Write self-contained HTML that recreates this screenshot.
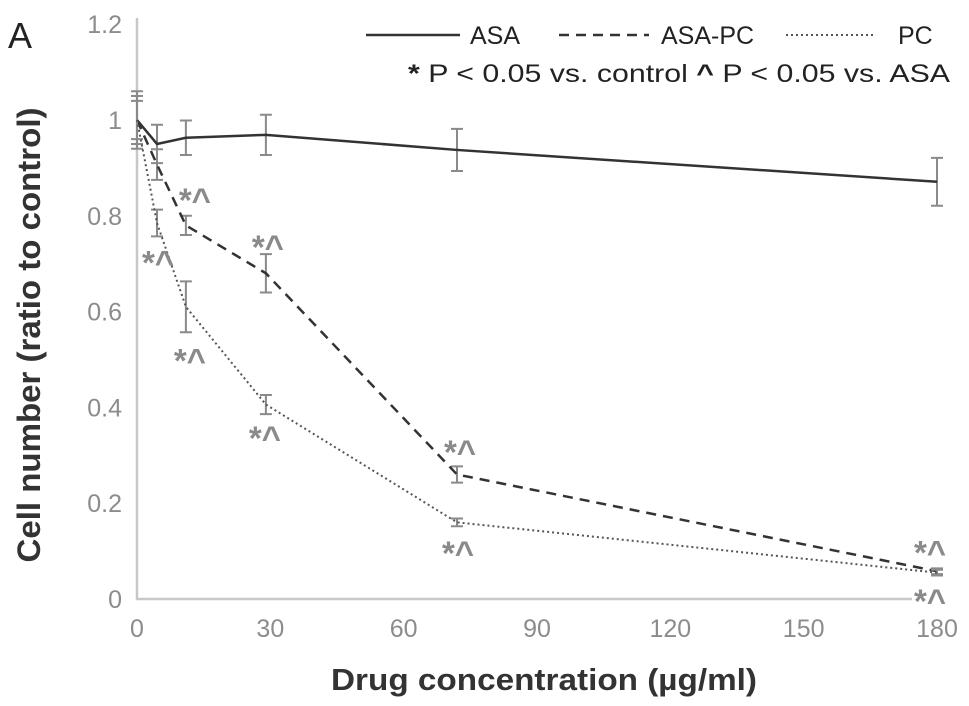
<!DOCTYPE html>
<html><head><meta charset="utf-8"><style>
html,body{margin:0;padding:0;background:#fff;}
svg{display:block;font-family:"Liberation Sans Narrow","Liberation Sans",sans-serif;}
</style></head><body>
<svg id="chart" width="969" height="706" viewBox="0 0 969 706">
<text x="8" y="48" font-size="36" fill="#222">A</text>
<g id="axes"></g>
<g id="series"></g>
<g id="annots"></g>
<text transform="translate(40,335) rotate(-90)" text-anchor="middle" font-size="32" fill="#333" font-weight="bold" textLength="455" lengthAdjust="spacingAndGlyphs">Cell number (ratio to control)</text>
<text x="544" y="690" text-anchor="middle" font-size="31" fill="#333" font-weight="bold" textLength="426" lengthAdjust="spacingAndGlyphs">Drug concentration (µg/ml)</text>
<g>
  <g>
    <line x1="366" y1="35" x2="460" y2="35" stroke="#333" stroke-width="2.5"/>
    <text x="470" y="44" font-size="25" fill="#222">ASA</text>
  </g>
  <g>
    <line x1="559" y1="35" x2="649" y2="35" stroke="#333" stroke-width="2.5" stroke-dasharray="10,7"/>
    <text x="661" y="44" font-size="25" fill="#222">ASA-PC</text>
  </g>
  <g>
    <line x1="786" y1="35" x2="874" y2="35" stroke="#555" stroke-width="2" stroke-dasharray="2,3"/>
    <text x="898" y="44" font-size="25" fill="#222">PC</text>
  </g>
  <text x="408" y="82" font-size="25" fill="#222" textLength="542" lengthAdjust="spacingAndGlyphs"><tspan font-weight="bold">*</tspan> P &lt; 0.05 vs. control <tspan font-weight="bold">^</tspan> P &lt; 0.05 vs. ASA</text>
</g>
</svg>
<script>
const xValues = [0, 4.5, 11, 29, 72, 180];
const asaValues = [1.0, 0.95, 0.963, 0.969, 0.9375, 0.871];
const asaErrors = [0.06, 0.04, 0.036, 0.042, 0.044, 0.05];
const asapcValues = [1.0, 0.907, 0.78, 0.68, 0.26, 0.058];
const asapcErrors = [0.05, 0.032, 0.02, 0.04, 0.017, 0.006];
const pcValues = [1.0, 0.785, 0.61, 0.406, 0.16, 0.055];
const pcErrors = [0.04, 0.028, 0.053, 0.02, 0.008, 0.006];
const xTicks = [0, 30, 60, 90, 120, 150, 180];
const yTicks = [0, 0.2, 0.4, 0.6, 0.8, 1, 1.2];
const yTickLabels = ["0", "0.2", "0.4", "0.6", "0.8", "1", "1.2"];

const NS = "http://www.w3.org/2000/svg";
const X = v => 137 + v * (800 / 180);
const Y = v => 599 - v * 479;
function mk(tag, attrs, parent) {
  const e = document.createElementNS(NS, tag);
  for (const k in attrs) e.setAttribute(k, attrs[k]);
  parent.appendChild(e);
  return e;
}
const axes = document.getElementById('axes');
const ya = mk('line', {x1: 137, y1: 18, x2: 137, y2: 600, stroke: '#c8c8c8', 'stroke-width': 2.5}, axes);


const xa = mk('line', {x1: 136, y1: 599, x2: 912, y2: 599, stroke: '#c8c8c8', 'stroke-width': 2.5}, axes);


xTicks.forEach(t => {
  const e = mk('text', {x: X(t), y: 637, 'text-anchor': 'middle', 'font-size': 25, fill: '#8c8c8c'}, axes);
  e.textContent = t;
  
  
});
yTicks.forEach((t, i) => {
  const e = mk('text', {x: 122, y: Y(t) + 9, 'text-anchor': 'end', 'font-size': 25, fill: '#8c8c8c'}, axes);
  e.textContent = yTickLabels[i];
  
  
});
const series = document.getElementById('series');
function drawSeries(name, vals, errs, stroke, width, dash) {
  const g = mk('g', {}, series);
  
  
  vals.forEach((v, i) => {
    const x = X(xValues[i]), y1 = Y(v + errs[i]), y2 = Y(v - errs[i]);
    const eb = mk('path', {d: `M${x-6},${y1}H${x+6}M${x},${y1}V${y2}M${x-6},${y2}H${x+6}`, stroke: '#8a8a8a', 'stroke-width': 2, fill: 'none'}, g);
    
    
  });
  const pts = vals.map((v, i) => X(xValues[i]) + ',' + Y(v)).join(' ');
  const pl = mk('polyline', {points: pts, fill: 'none', stroke: stroke, 'stroke-width': width}, g);
  if (dash) pl.setAttribute('stroke-dasharray', dash);
  
  
}
drawSeries('asa', asaValues, asaErrors, '#333', 2.5, null);
drawSeries('asa-pc', asapcValues, asapcErrors, '#333', 2.5, '10,7');
drawSeries('pc', pcValues, pcErrors, '#555', 2, '2,3');

// significance annotations: [x, value, dx, dy] offsets from the data point
const annots = document.getElementById('annots');
const annotList = [
  [11, asapcValues[2], 9, -31], [4.5, pcValues[1], 1, 34],
  [29, asapcValues[3], 2, -32], [11, pcValues[2], 4, 48],
  [29, pcValues[3], -1, 28], [72, asapcValues[4], 3, -28],
  [72, pcValues[4], 1, 25], [180, asapcValues[5], -7, -24], [180, pcValues[5], -7, 23]
];
annotList.forEach(a => {
  const e = mk('text', {x: X(a[0]) + a[2], y: Y(a[1]) + a[3] + 17, 'text-anchor': 'middle', 'font-size': 33, 'font-weight': 'bold', fill: '#8a8a8a'}, annots);
  e.textContent = '*^';
  
  
});
</script>
</body></html>
